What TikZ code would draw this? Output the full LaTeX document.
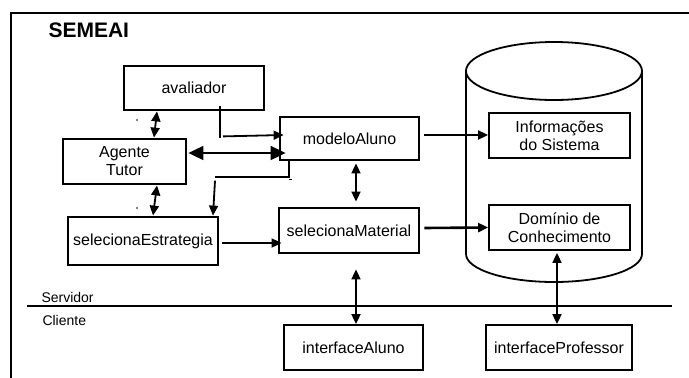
\documentclass[tikz,border=0pt]{standalone}
\usepackage{fontspec}
\setmainfont{Liberation Sans}
\usetikzlibrary{arrows.meta, positioning}

\begin{document}
\begin{tikzpicture}[x=1pt, y=-1pt,
            module/.style={rectangle, draw, line width=2.8pt, minimum width=140pt,
                           minimum height=44pt, inner sep=2pt, font=\fontsize{16}{18}\selectfont, align=center},
            store/.style={rectangle, draw, line width=1.8pt, minimum width=141pt,
                          minimum height=45pt, inner sep=2pt, font=\fontsize{16}{18}\selectfont, align=center},
            link/.style={line width=1.8pt},
            arrow/.style={-{Triangle[length=10pt,width=9pt]}, line width=1.8pt},
            twoway/.style={{Triangle[length=10pt,width=9pt]}-{Triangle[length=10pt,width=9pt]}, line width=1.8pt},
            bigway/.style={{Triangle[length=15pt,width=14pt]}-{Triangle[length=15pt,width=14pt]}, line width=1.8pt}
        ]
            \useasboundingbox (0,0) rectangle (689,378);
            \draw[line width=1.8pt] (11,378) -- (11,13) -- (689,13);
            \node[font=\fontsize{21}{24}\selectfont\bfseries, anchor=west] (title) at (45,30) {SEMEAI};

            % Database
            \draw[line width=1.8pt] (554,71) ellipse [x radius=88pt, y radius=29pt];
            \draw[line width=1.8pt] (466,71) -- (466,254) arc[start angle=180, end angle=360, x radius=88pt, y radius=28pt] -- (642,71);

            % Server modules
            \node[module] (avaliador) at (194,88) {avaliador};
            \node[module, minimum width=123pt, minimum height=45pt] (tutor) at (124.5,161.5) {Agente\\Tutor};
            \node[module, minimum width=150pt, minimum height=48pt] (estrategia) at (143,241) {selecionaEstrategia};
            \node[module, minimum width=139pt, minimum height=43pt] (modelo) at (349.5,138.5) {modeloAluno};
            \node[module, minimum height=45pt] (material) at (349,230.5) {selecionaMaterial};
            \node[store] (info) at (559.5,135.5) {Informações\\do Sistema};
            \node[store] (dominio) at (559.5,227.5) {Domínio de\\Conhecimento};

            % Client modules
            \node[store, minimum width=139pt] (aluno) at (353.5,347.5) {interfaceAluno};
            \node[store, minimum width=146pt] (professor) at (559,347.5) {interfaceProfessor};

            \draw[twoway] ([xshift=-37pt]avaliador.south) -- ([xshift=29.5pt]tutor.north);
            \draw[twoway] ([xshift=32.5pt]tutor.south) -- ([xshift=10pt]estrategia.north);
            \draw[link] ([xshift=26pt,yshift=5pt]avaliador.south) -- ++(0,32);
            \draw[arrow] ([xshift=29pt,yshift=-25pt]avaliador.south) -- ([xshift=5pt,yshift=3.5pt]modelo.west);
            \draw[bigway] ([xshift=1pt,yshift=8.5pt]tutor.east) -- ([xshift=7pt,yshift=-14.5pt]modelo.west);
            \draw[link] ([xshift=-60.5pt]modelo.south) |- ([xshift=72pt,yshift=39pt]estrategia.north);
            \draw[link] ([xshift=-60.5pt,yshift=-18pt]modelo.south) -- ++(3,0);
            \draw[arrow] ([xshift=72pt,yshift=35pt]estrategia.north) -- ([xshift=70pt]estrategia.north);
            \draw[arrow] ([xshift=3pt,yshift=-2pt]estrategia.east) -- ([xshift=4pt,yshift=-12.5pt]material.west);
            \draw[twoway] ([xshift=6.5pt,yshift=-2pt]modelo.south) -- ([xshift=7pt,yshift=5pt]material.north);
            \draw[arrow] ([xshift=4pt,yshift=3.5pt]modelo.east) -- ([yshift=0.5pt]info.west);
            \draw[arrow, line width=2.6pt] ([xshift=4pt,yshift=2.5pt]material.east) -- (dominio.west);
            \draw[twoway] ([xshift=7pt,yshift=-15pt]material.south) -- ([xshift=2.5pt]aluno.north);
            \draw[twoway] ([xshift=-2.5pt,yshift=-2pt]dominio.south) -- ([xshift=-2pt]professor.north);

            % stray marks
            \fill (137,120) circle (0.8pt);
            \fill (137,208) circle (0.8pt);

            % Labels
            \draw[line width=1.8pt] (27,306) -- (672,306);
            \node[font=\fontsize{14}{16}\selectfont, anchor=west] (servidor) at (38,297) {Servidor};
            \node[font=\fontsize{14}{16}\selectfont, anchor=west] (cliente) at (39,320) {Cliente};
        \end{tikzpicture}
\end{document}
